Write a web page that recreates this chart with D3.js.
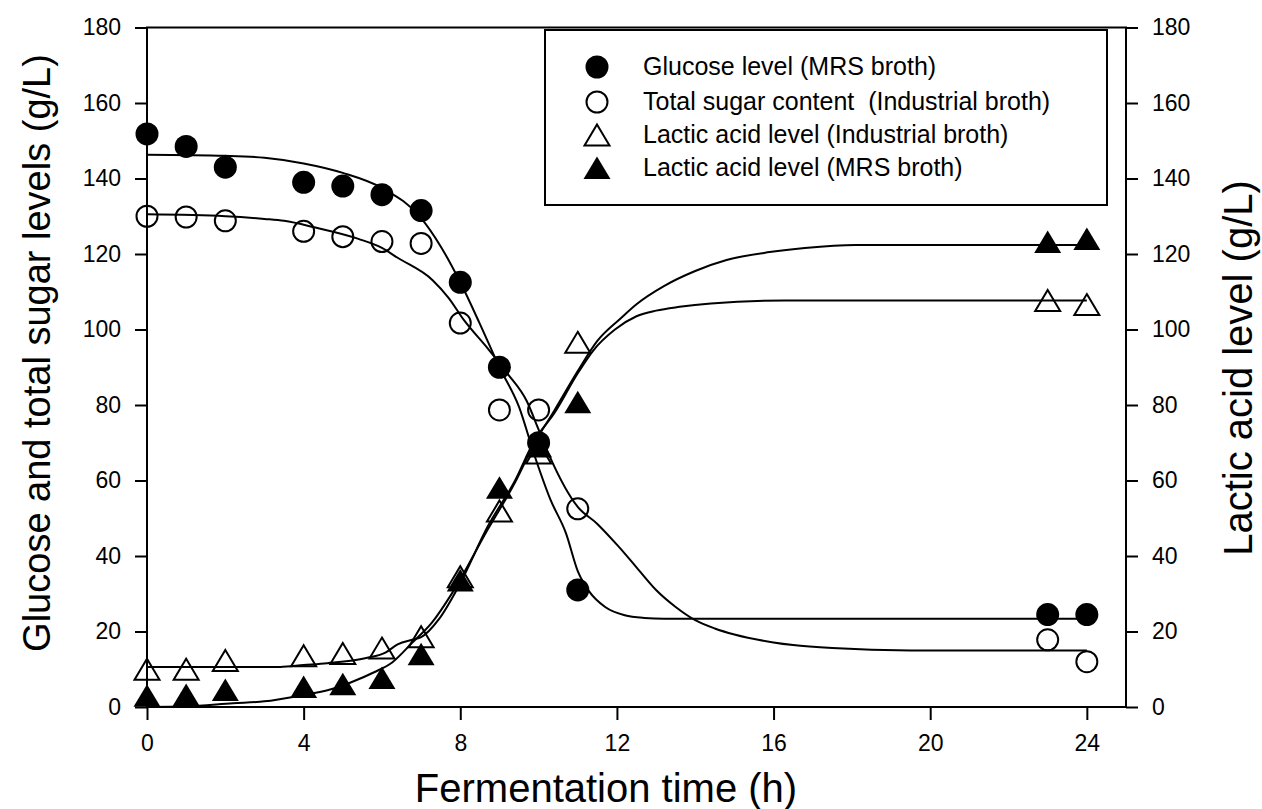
<!DOCTYPE html>
<html>
<head>
<meta charset="utf-8">
<script src="https://cdn.jsdelivr.net/npm/d3@7"></script>
<style>
body{margin:0;background:#fff;}
text{font-family:"Liberation Sans",Arial,sans-serif;fill:#000;}
</style>
</head>
<body>
<div id="chart"></div>
<script>
// measured points
var hours = [0,1,2,4,5,6,7,8,9,10,11,23,24];
var glucoseMRS = [151.8,148.5,143,139,138,135.7,131.5,112.5,90,70,31,24.5,24.5];
var sugarIndustrial = [130,129.8,128.8,126,124.6,123.3,122.8,101.7,78.7,78.7,52.5,17.8,12];
var lacticIndustrial = [10,10,12.3,13.6,14.2,15.6,18.6,34.5,51.9,67.3,96.6,107.7,106.6];
var lacticMRS = [3,3.2,4.5,5.3,6,7.7,14,33.5,58.1,69,80.7,123.2,124];

// fitted curves
var glucoseFitT = [0,2,3,4,5,6,7,7.5,8,8.5,9,9.5,9.9,10.3,10.7,11,11.3,11.7,12.2,12.7,13.2,24];
var glucoseFitV = [146.3,146,145.5,144,141.5,137.5,129.5,122,112.5,101.5,90,79.5,66.5,55,46,36,30.5,26.5,24.3,23.6,23.4,23.4];
var sugarFitT = [0,2,3,3.5,4.3,5.4,6,6.4,7.3,7.7,8.1,8.7,9.2,9.7,10,10.3,11,11.5,12,12.5,13,13.5,14,14.5,15,16,16.5,17.5,19.5,24];
var sugarFitV = [130.5,130,129.3,128.8,127,124,121.6,119,113,108.4,102.4,95,88.4,81,73.5,66,53,48.5,43,37,31,26.5,23,20.8,19.2,17.1,16.4,15.6,15,15];
var lacticIndFitT = [0,3.4,4,4.6,5.6,6.1,6.4,6.8,7,7.45,7.96,8.7,9.4,9.9,10.4,11,11.4,11.95,12.5,13,13.6,14.4,16.3,24];
var lacticIndFitV = [10.6,10.6,11.1,11.6,13,14.5,16.6,17.9,18.5,23.2,32,47.8,60,70.7,77.8,88.4,94.5,100,103.5,105,106,106.9,107.7,107.7];
var lacticMRSFitT = [0,1,2.2,3,3.9,4.7,5.2,5.8,6.26,6.77,7.28,7.8,8.7,9.4,9.9,10.4,11,11.5,12.1,12.5,13.2,14,14.8,15.9,16.8,18.1,24];
var lacticMRSFitV = [0,0.2,1,1.5,3,4.7,6.5,9.2,11.8,17,22.4,30.3,47,59.5,70,78.5,89,97,103,106.7,111.5,115.5,118.4,120.5,121.6,122.4,122.4];

var xTicks = [0,4,8,12,16,20,24];
var yTicks = [0,20,40,60,80,100,120,140,160,180];
var legendLabels = ["Glucose level (MRS broth)","Total sugar content  (Industrial broth)","Lactic acid level (Industrial broth)","Lactic acid level (MRS broth)"];

var W = 1262, H = 809;
var pL = 147, pR = 1126, pT = 27.5, pB = 707;

var svg = d3.select("#chart").append("svg").attr("width", W).attr("height", H);

var x = d3.scaleLinear().domain([0, 25]).range([pL, pR]);
var y = d3.scaleLinear().domain([0, 180]).range([pB, pT]);

// axes
var gl = svg.append("g").attr("transform", "translate(" + pL + ",0)")
	.call(d3.axisLeft(y).tickValues(yTicks).tickSize(12).tickPadding(14).tickSizeOuter(0));
var gr = svg.append("g").attr("transform", "translate(" + pR + ",0)")
	.call(d3.axisRight(y).tickValues(yTicks).tickSize(12).tickPadding(14).tickSizeOuter(0));
var gb = svg.append("g").attr("transform", "translate(0," + pB + ")")
	.call(d3.axisBottom(x).tickValues(xTicks).tickSize(13).tickPadding(15).tickSizeOuter(0));
[gl, gr, gb].forEach(function(g)
{
	g.select(".domain").remove();
	g.selectAll("line").attr("stroke", "#000").attr("stroke-width", 2);
	g.selectAll("text").style("font-size", "23px").attr("fill", "#000");
});

svg.append("rect").attr("x", pL).attr("y", pT).attr("width", pR - pL).attr("height", pB - pT)
	.attr("fill", "none").attr("stroke", "#000").attr("stroke-width", 2);

// fitted lines
var line = d3.line().x(function(d){ return x(d[0]); }).y(function(d){ return y(d[1]); }).curve(d3.curveMonotoneX);
var fits = [[glucoseFitT, glucoseFitV],[sugarFitT, sugarFitV],[lacticIndFitT, lacticIndFitV],[lacticMRSFitT, lacticMRSFitV]];
fits.forEach(function(f)
{
	var pts = f[0].map(function(t, i){ return [t, f[1][i]]; });
	svg.append("path").datum(pts).attr("d", line).attr("fill", "none").attr("stroke", "#000").attr("stroke-width", 2);
});

// markers
function addShape(sel, kind)
{
	if(kind == "filledCircle")
		sel.append("circle").attr("r", 11.5).attr("fill", "#000");
	else if(kind == "openCircle")
		sel.append("circle").attr("r", 10.5).attr("fill", "none").attr("stroke", "#000").attr("stroke-width", 2);
	else if(kind == "openTri")
		sel.append("path").attr("d", "M0,-10.5L12.5,10.5L-12.5,10.5Z").attr("fill", "none").attr("stroke", "#000").attr("stroke-width", 2);
	else
		sel.append("path").attr("d", "M0,-11.5L13.5,11L-13.5,11Z").attr("fill", "#000");
}
function drawMarkers(vals, kind)
{
	var sel = svg.append("g").selectAll("g").data(vals).enter().append("g")
		.attr("transform", function(d, i){ return "translate(" + x(hours[i]) + "," + y(d) + ")"; });
	addShape(sel, kind);
}
drawMarkers(lacticMRS, "filledTri");
drawMarkers(lacticIndustrial, "openTri");
drawMarkers(sugarIndustrial, "openCircle");
drawMarkers(glucoseMRS, "filledCircle");

// legend
svg.append("rect").attr("x", 545).attr("y", 30).attr("width", 562).attr("height", 175)
	.attr("fill", "#fff").attr("stroke", "#000").attr("stroke-width", 2);
var kinds = ["filledCircle","openCircle","openTri","filledTri"];
var rowY = [67,102,135,168];
legendLabels.forEach(function(lab, i)
{
	var g = svg.append("g").attr("transform", "translate(597," + rowY[i] + ")");
	addShape(g, kinds[i]);
	svg.append("text").attr("x", 643).attr("y", rowY[i] + 8).style("font-size", "25px").attr("xml:space", "preserve").text(lab);
});

// titles
svg.append("text").attr("x", 606).attr("y", 802).attr("text-anchor", "middle").style("font-size", "40px").text("Fermentation time (h)");
svg.append("text").attr("transform", "translate(50,353) rotate(-90)").attr("text-anchor", "middle").style("font-size", "38px").text("Glucose and total sugar levels (g/L)");
svg.append("text").attr("transform", "translate(1252,368) rotate(-90)").attr("text-anchor", "middle").style("font-size", "40px").text("Lactic acid level (g/L)");
</script>
</body>
</html>
